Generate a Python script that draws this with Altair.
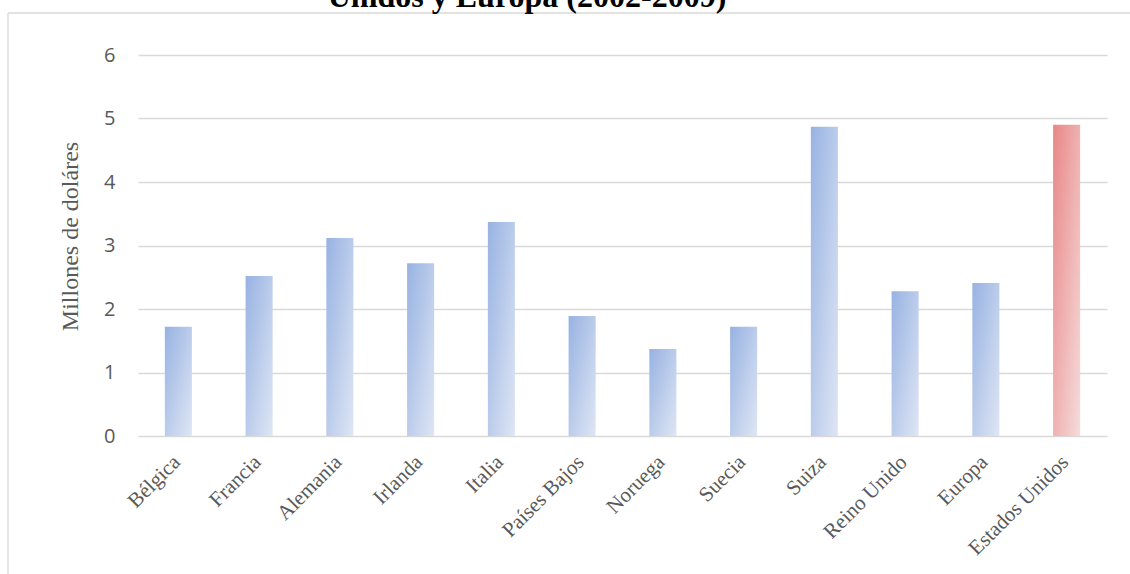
import altair as alt
import pandas as pd

# Valores por país (millones de dólares)
paises = ["Bélgica", "Francia", "Alemania", "Irlanda", "Italia", "Países Bajos",
          "Noruega", "Suecia", "Suiza", "Reino Unido", "Europa", "Estados Unidos"]
valores = [1.72, 2.52, 3.12, 2.72, 3.37, 1.89, 1.37, 1.72, 4.87, 2.28, 2.41, 4.90]
destacado = ["Estados Unidos"]
ticks_y = [0, 1, 2, 3, 4, 5, 6]
titulo = ["Unidos y Europa (2002-2009)"]

df = pd.DataFrame({"pais": paises, "valor": valores})
df["grupo"] = ["us" if p in destacado else "eu" for p in paises]

GRIS_TXT = "#595959"
GRIS_LIN = "#d9d9d9"

grad_azul = alt.LinearGradient(
    gradient="linear", x1=0, y1=0, x2=1, y2=1,
    stops=[alt.GradientStop(color="#97b2e2", offset=0),
           alt.GradientStop(color="#dfe6f4", offset=1)],
)
grad_rojo = alt.LinearGradient(
    gradient="linear", x1=0, y1=0, x2=1, y2=1,
    stops=[alt.GradientStop(color="#e88686", offset=0),
           alt.GradientStop(color="#f6dcdc", offset=1)],
)

x_enc = alt.X(
    "pais:N", sort=paises,
    scale=alt.Scale(paddingInner=0.665, paddingOuter=0.3325),
    axis=alt.Axis(
        title=None, labelAngle=-45, labelAlign="right", labelBaseline="top",
        labelFont="Liberation Serif", labelFontSize=21, labelColor=GRIS_TXT,
        labelPadding=15, labelOffset=-9, ticks=False, tickSize=0, domain=False,
        grid=False, labelOverlap=False,
    ),
)
y_enc = alt.Y(
    "valor:Q",
    scale=alt.Scale(domain=[0, 6], nice=False),
    axis=alt.Axis(
        values=ticks_y, format="d", title="Millones de doláres",
        titleFont="Liberation Serif", titleFontSize=24, titleFontWeight="normal",
        titleColor=GRIS_TXT, titleX=-61, titleY=181, titleAlign="center",
        titleBaseline="alphabetic", titleAngle=270,
        labelFont="Open Sans", labelFontSize=20, labelColor=GRIS_TXT,
        labelPadding=23, ticks=False, tickSize=0, domain=False,
        grid=True, gridColor=GRIS_LIN, gridWidth=1.4,
    ),
)

base = alt.Chart(df).encode(x=x_enc, y=y_enc)
barras_eu = base.transform_filter(alt.datum.grupo == "eu").mark_bar(color=grad_azul)
barras_us = base.transform_filter(alt.datum.grupo == "us").mark_bar(color=grad_rojo)

# Marco del área del gráfico
uno = pd.DataFrame({"k": [0]})
marco_izq = alt.Chart(uno).mark_rule(color=GRIS_LIN, strokeWidth=1.4).encode(
    x=alt.value(-130), y=alt.value(-42), y2=alt.value(700)
)
marco_sup = alt.Chart(uno).mark_rule(color=GRIS_LIN, strokeWidth=1.4).encode(
    x=alt.value(-130), x2=alt.value(1100), y=alt.value(-42)
)

# Segunda línea del título
texto_titulo = alt.Chart(pd.DataFrame({"t": titulo})).mark_text(
    font="Liberation Serif", fontSize=32, fontWeight="bold", color="#000000",
    align="center", baseline="alphabetic",
).encode(x=alt.value(389), y=alt.value(-48), text="t:N")

chart = alt.layer(barras_eu, barras_us, marco_izq, marco_sup, texto_titulo).properties(
    width=969,
    height=381,
    autosize=alt.AutoSizeParams(type="none"),
    padding={"left": 138, "top": 55, "right": 23, "bottom": 138},
).configure_view(stroke=None)

chart.save("out.html", embed_options={"renderer": "svg", "actions": False})
